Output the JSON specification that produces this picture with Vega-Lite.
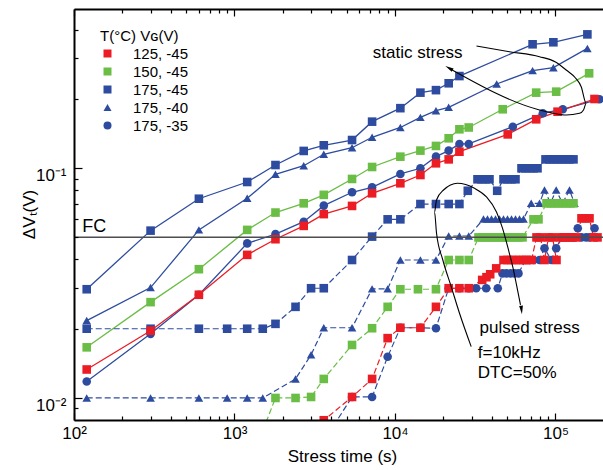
{
"$schema": "https://vega.github.io/schema/vega-lite/v6.json",
"width": 529, "height": 411,
"autosize": {"type": "none"},
"padding": {"left": 74, "top": 9, "right": 0, "bottom": 50},
"background": "white",
"config": {"view": {"stroke": null}, "font": "Liberation Sans"},
"datasets": {
"d": [
{"s":"175, -35","m":"s","t":120,"v":0.0118},{"s":"175, -35","m":"s","t":300,"v":0.019},{"s":"175, -35","m":"s","t":600,"v":0.0281},{"s":"175, -35","m":"s","t":1200,"v":0.047},{"s":"175, -35","m":"s","t":1800,"v":0.0516},{"s":"175, -35","m":"s","t":2700,"v":0.0584},{"s":"175, -35","m":"s","t":3600,"v":0.0686},{"s":"175, -35","m":"s","t":5400,"v":0.0784},{"s":"175, -35","m":"s","t":7200,"v":0.0824},{"s":"175, -35","m":"s","t":10800,"v":0.0942},{"s":"175, -35","m":"s","t":14400,"v":0.0997},{"s":"175, -35","m":"s","t":18000,"v":0.112},{"s":"175, -35","m":"s","t":21600,"v":0.119},{"s":"175, -35","m":"s","t":25200,"v":0.1272},{"s":"175, -35","m":"s","t":28800,"v":0.1272},{"s":"175, -35","m":"s","t":54200,"v":0.1512},{"s":"175, -35","m":"s","t":83400,"v":0.173},{"s":"175, -35","m":"s","t":111000,"v":0.18},{"s":"175, -35","m":"s","t":188000,"v":0.199},
{"s":"175, -35","m":"p","t":3600,"v":0.0065},{"s":"175, -35","m":"p","t":5400,"v":0.0101},{"s":"175, -35","m":"p","t":7200,"v":0.0101},{"s":"175, -35","m":"p","t":9000,"v":0.0151},{"s":"175, -35","m":"p","t":10800,"v":0.0202},{"s":"175, -35","m":"p","t":14400,"v":0.0202},{"s":"175, -35","m":"p","t":18000,"v":0.0201},{"s":"175, -35","m":"p","t":21600,"v":0.030},{"s":"175, -35","m":"p","t":25200,"v":0.030},{"s":"175, -35","m":"p","t":28800,"v":0.030},{"s":"175, -35","m":"p","t":32055,"v":0.030},{"s":"175, -35","m":"p","t":36999,"v":0.030},{"s":"175, -35","m":"p","t":43701,"v":0.030},{"s":"175, -35","m":"p","t":46750,"v":0.0348},{"s":"175, -35","m":"p","t":49513,"v":0.0348},{"s":"175, -35","m":"p","t":52438,"v":0.0348},{"s":"175, -35","m":"p","t":55537,"v":0.0348},{"s":"175, -35","m":"p","t":58818,"v":0.0348},{"s":"175, -35","m":"p","t":65031,"v":0.0398},{"s":"175, -35","m":"p","t":68872,"v":0.0398},{"s":"175, -35","m":"p","t":72938,"v":0.0398},{"s":"175, -35","m":"p","t":79500,"v":0.0398},{"s":"175, -35","m":"p","t":85413,"v":0.0448},{"s":"175, -35","m":"p","t":94032,"v":0.0398},{"s":"175, -35","m":"p","t":101009,"v":0.0448},{"s":"175, -35","m":"p","t":108994,"v":0.0499},{"s":"175, -35","m":"p","t":115437,"v":0.0499},{"s":"175, -35","m":"p","t":122246,"v":0.0499},{"s":"175, -35","m":"p","t":129457,"v":0.0499},{"s":"175, -35","m":"p","t":137694,"v":0.0547},{"s":"175, -35","m":"p","t":145200,"v":0.0499},{"s":"175, -35","m":"p","t":155336,"v":0.0499},{"s":"175, -35","m":"p","t":162888,"v":0.0499},{"s":"175, -35","m":"p","t":175000,"v":0.0547},
{"s":"175, -40","m":"s","t":120,"v":0.0217},{"s":"175, -40","m":"s","t":300,"v":0.0302},{"s":"175, -40","m":"s","t":600,"v":0.0538},{"s":"175, -40","m":"s","t":1200,"v":0.0738},{"s":"175, -40","m":"s","t":1800,"v":0.0939},{"s":"175, -40","m":"s","t":2700,"v":0.1023},{"s":"175, -40","m":"s","t":3600,"v":0.1147},{"s":"175, -40","m":"s","t":5400,"v":0.1225},{"s":"175, -40","m":"s","t":7200,"v":0.136},{"s":"175, -40","m":"s","t":10800,"v":0.150},{"s":"175, -40","m":"s","t":14400,"v":0.166},{"s":"175, -40","m":"s","t":18000,"v":0.1774},{"s":"175, -40","m":"s","t":21600,"v":0.1836},{"s":"175, -40","m":"s","t":43000,"v":0.2318},{"s":"175, -40","m":"s","t":72000,"v":0.265},{"s":"175, -40","m":"s","t":97000,"v":0.273},{"s":"175, -40","m":"s","t":158000,"v":0.331},
{"s":"175, -40","m":"p","t":120,"v":0.0100},{"s":"175, -40","m":"p","t":300,"v":0.0100},{"s":"175, -40","m":"p","t":600,"v":0.0100},{"s":"175, -40","m":"p","t":900,"v":0.0100},{"s":"175, -40","m":"p","t":1200,"v":0.0100},{"s":"175, -40","m":"p","t":1500,"v":0.0100},{"s":"175, -40","m":"p","t":2400,"v":0.0121},{"s":"175, -40","m":"p","t":3000,"v":0.0154},{"s":"175, -40","m":"p","t":3600,"v":0.0202},{"s":"175, -40","m":"p","t":5400,"v":0.0202},{"s":"175, -40","m":"p","t":7200,"v":0.0298},{"s":"175, -40","m":"p","t":9000,"v":0.0298},{"s":"175, -40","m":"p","t":10800,"v":0.0398},{"s":"175, -40","m":"p","t":14400,"v":0.0398},{"s":"175, -40","m":"p","t":18000,"v":0.0398},{"s":"175, -40","m":"p","t":21600,"v":0.0506},{"s":"175, -40","m":"p","t":25200,"v":0.0506},{"s":"175, -40","m":"p","t":28800,"v":0.0506},{"s":"175, -40","m":"p","t":35594,"v":0.060},{"s":"175, -40","m":"p","t":37696,"v":0.060},{"s":"175, -40","m":"p","t":39922,"v":0.060},{"s":"175, -40","m":"p","t":42282,"v":0.060},{"s":"175, -40","m":"p","t":44780,"v":0.060},{"s":"175, -40","m":"p","t":47426,"v":0.060},{"s":"175, -40","m":"p","t":50229,"v":0.060},{"s":"175, -40","m":"p","t":53196,"v":0.060},{"s":"175, -40","m":"p","t":56340,"v":0.060},{"s":"175, -40","m":"p","t":59668,"v":0.060},{"s":"175, -40","m":"p","t":63192,"v":0.060},{"s":"175, -40","m":"p","t":70572,"v":0.0702},{"s":"175, -40","m":"p","t":79500,"v":0.0702},{"s":"175, -40","m":"p","t":85413,"v":0.0802},{"s":"175, -40","m":"p","t":93093,"v":0.0702},{"s":"175, -40","m":"p","t":101009,"v":0.0802},{"s":"175, -40","m":"p","t":110570,"v":0.0702},{"s":"175, -40","m":"p","t":122246,"v":0.0802},{"s":"175, -40","m":"p","t":131329,"v":0.0702},
{"s":"175, -45","m":"s","t":120,"v":0.0297},{"s":"175, -45","m":"s","t":300,"v":0.0534},{"s":"175, -45","m":"s","t":600,"v":0.0735},{"s":"175, -45","m":"s","t":1200,"v":0.0869},{"s":"175, -45","m":"s","t":1800,"v":0.103},{"s":"175, -45","m":"s","t":2700,"v":0.1186},{"s":"175, -45","m":"s","t":3600,"v":0.1255},{"s":"175, -45","m":"s","t":5400,"v":0.1323},{"s":"175, -45","m":"s","t":7200,"v":0.159},{"s":"175, -45","m":"s","t":10800,"v":0.182},{"s":"175, -45","m":"s","t":14400,"v":0.2126},{"s":"175, -45","m":"s","t":18000,"v":0.218},{"s":"175, -45","m":"s","t":21600,"v":0.2335},{"s":"175, -45","m":"s","t":25200,"v":0.251},{"s":"175, -45","m":"s","t":72000,"v":0.345},{"s":"175, -45","m":"s","t":97000,"v":0.352},{"s":"175, -45","m":"s","t":158000,"v":0.381},
{"s":"175, -45","m":"p","t":120,"v":0.020},{"s":"175, -45","m":"p","t":300,"v":0.020},{"s":"175, -45","m":"p","t":600,"v":0.020},{"s":"175, -45","m":"p","t":900,"v":0.020},{"s":"175, -45","m":"p","t":1200,"v":0.020},{"s":"175, -45","m":"p","t":1500,"v":0.020},{"s":"175, -45","m":"p","t":1800,"v":0.021},{"s":"175, -45","m":"p","t":2400,"v":0.0249},{"s":"175, -45","m":"p","t":3000,"v":0.030},{"s":"175, -45","m":"p","t":3600,"v":0.030},{"s":"175, -45","m":"p","t":5400,"v":0.0398},{"s":"175, -45","m":"p","t":7200,"v":0.0503},{"s":"175, -45","m":"p","t":9000,"v":0.0598},{"s":"175, -45","m":"p","t":10800,"v":0.0598},{"s":"175, -45","m":"p","t":14400,"v":0.0697},{"s":"175, -45","m":"p","t":18000,"v":0.0697},{"s":"175, -45","m":"p","t":21600,"v":0.0697},{"s":"175, -45","m":"p","t":25200,"v":0.0697},{"s":"175, -45","m":"p","t":28418,"v":0.0796},{"s":"175, -45","m":"p","t":32659,"v":0.0893},{"s":"175, -45","m":"p","t":34587,"v":0.0893},{"s":"175, -45","m":"p","t":36630,"v":0.0893},{"s":"175, -45","m":"p","t":38793,"v":0.0893},{"s":"175, -45","m":"p","t":43326,"v":0.0796},{"s":"175, -45","m":"p","t":47426,"v":0.0893},{"s":"175, -45","m":"p","t":50229,"v":0.0893},{"s":"175, -45","m":"p","t":53196,"v":0.0893},{"s":"175, -45","m":"p","t":56340,"v":0.0893},{"s":"175, -45","m":"p","t":61404,"v":0.0997},{"s":"175, -45","m":"p","t":65031,"v":0.0997},{"s":"175, -45","m":"p","t":68872,"v":0.0997},{"s":"175, -45","m":"p","t":72938,"v":0.0997},{"s":"175, -45","m":"p","t":77251,"v":0.0997},{"s":"175, -45","m":"p","t":86648,"v":0.109},{"s":"175, -45","m":"p","t":91766,"v":0.109},{"s":"175, -45","m":"p","t":97187,"v":0.109},{"s":"175, -45","m":"p","t":102911,"v":0.109},{"s":"175, -45","m":"p","t":108994,"v":0.109},{"s":"175, -45","m":"p","t":115437,"v":0.109},{"s":"175, -45","m":"p","t":122246,"v":0.109},{"s":"175, -45","m":"p","t":129457,"v":0.109},
{"s":"150, -45","m":"s","t":120,"v":0.0166},{"s":"150, -45","m":"s","t":300,"v":0.0261},{"s":"150, -45","m":"s","t":600,"v":0.0363},{"s":"150, -45","m":"s","t":1200,"v":0.0538},{"s":"150, -45","m":"s","t":1800,"v":0.064},{"s":"150, -45","m":"s","t":2700,"v":0.0702},{"s":"150, -45","m":"s","t":3600,"v":0.0764},{"s":"150, -45","m":"s","t":5400,"v":0.0896},{"s":"150, -45","m":"s","t":7200,"v":0.101},{"s":"150, -45","m":"s","t":10800,"v":0.112},{"s":"150, -45","m":"s","t":14400,"v":0.119},{"s":"150, -45","m":"s","t":18000,"v":0.1247},{"s":"150, -45","m":"s","t":21600,"v":0.1346},{"s":"150, -45","m":"s","t":25200,"v":0.1473},{"s":"150, -45","m":"s","t":28800,"v":0.150},{"s":"150, -45","m":"s","t":46900,"v":0.180},{"s":"150, -45","m":"s","t":75800,"v":0.2126},{"s":"150, -45","m":"s","t":101000,"v":0.2147},{"s":"150, -45","m":"s","t":162000,"v":0.258},
{"s":"150, -45","m":"p","t":1500,"v":0.0072},{"s":"150, -45","m":"p","t":1800,"v":0.0100},{"s":"150, -45","m":"p","t":2400,"v":0.0100},{"s":"150, -45","m":"p","t":3000,"v":0.0101},{"s":"150, -45","m":"p","t":3600,"v":0.0121},{"s":"150, -45","m":"p","t":5400,"v":0.017},{"s":"150, -45","m":"p","t":7200,"v":0.0201},{"s":"150, -45","m":"p","t":9000,"v":0.0249},{"s":"150, -45","m":"p","t":10800,"v":0.0297},{"s":"150, -45","m":"p","t":13900,"v":0.0297},{"s":"150, -45","m":"p","t":18000,"v":0.0297},{"s":"150, -45","m":"p","t":21600,"v":0.0398},{"s":"150, -45","m":"p","t":25200,"v":0.0398},{"s":"150, -45","m":"p","t":28800,"v":0.0398},{"s":"150, -45","m":"p","t":33131,"v":0.0499},{"s":"150, -45","m":"p","t":35087,"v":0.0499},{"s":"150, -45","m":"p","t":37159,"v":0.0499},{"s":"150, -45","m":"p","t":39354,"v":0.0499},{"s":"150, -45","m":"p","t":41680,"v":0.0499},{"s":"150, -45","m":"p","t":44142,"v":0.0499},{"s":"150, -45","m":"p","t":46750,"v":0.0499},{"s":"150, -45","m":"p","t":49513,"v":0.0499},{"s":"150, -45","m":"p","t":52438,"v":0.0499},{"s":"150, -45","m":"p","t":55537,"v":0.0499},{"s":"150, -45","m":"p","t":58818,"v":0.0499},{"s":"150, -45","m":"p","t":62292,"v":0.0499},{"s":"150, -45","m":"p","t":72938,"v":0.0598},{"s":"150, -45","m":"p","t":78368,"v":0.0598},{"s":"150, -45","m":"p","t":87901,"v":0.0702},{"s":"150, -45","m":"p","t":93093,"v":0.0702},{"s":"150, -45","m":"p","t":98576,"v":0.0702},{"s":"150, -45","m":"p","t":104400,"v":0.0702},{"s":"150, -45","m":"p","t":110570,"v":0.0702},{"s":"150, -45","m":"p","t":117100,"v":0.0702},{"s":"150, -45","m":"p","t":124000,"v":0.0702},{"s":"150, -45","m":"p","t":129457,"v":0.0702},
{"s":"125, -45","m":"s","t":120,"v":0.0133},{"s":"125, -45","m":"s","t":300,"v":0.0196},{"s":"125, -45","m":"s","t":600,"v":0.0281},{"s":"125, -45","m":"s","t":1200,"v":0.0419},{"s":"125, -45","m":"s","t":1800,"v":0.049},{"s":"125, -45","m":"s","t":2700,"v":0.056},{"s":"125, -45","m":"s","t":3600,"v":0.063},{"s":"125, -45","m":"s","t":5400,"v":0.0684},{"s":"125, -45","m":"s","t":7200,"v":0.0776},{"s":"125, -45","m":"s","t":10800,"v":0.0858},{"s":"125, -45","m":"s","t":14400,"v":0.0932},{"s":"125, -45","m":"s","t":18000,"v":0.1048},{"s":"125, -45","m":"s","t":21600,"v":0.109},{"s":"125, -45","m":"s","t":25200,"v":0.1177},{"s":"125, -45","m":"s","t":50400,"v":0.140},{"s":"125, -45","m":"s","t":75800,"v":0.1628},{"s":"125, -45","m":"s","t":103000,"v":0.1757},{"s":"125, -45","m":"s","t":175000,"v":0.1995},
{"s":"125, -45","m":"p","t":3000,"v":0.0068},{"s":"125, -45","m":"p","t":3600,"v":0.0080},{"s":"125, -45","m":"p","t":5400,"v":0.0101},{"s":"125, -45","m":"p","t":7200,"v":0.0121},{"s":"125, -45","m":"p","t":9000,"v":0.0182},{"s":"125, -45","m":"p","t":10800,"v":0.0202},{"s":"125, -45","m":"p","t":14400,"v":0.0202},{"s":"125, -45","m":"p","t":18000,"v":0.0249},{"s":"125, -45","m":"p","t":21600,"v":0.030},{"s":"125, -45","m":"p","t":25200,"v":0.030},{"s":"125, -45","m":"p","t":28800,"v":0.030},{"s":"125, -45","m":"p","t":34936,"v":0.0326},{"s":"125, -45","m":"p","t":37159,"v":0.0335},{"s":"125, -45","m":"p","t":39185,"v":0.0345},{"s":"125, -45","m":"p","t":42709,"v":0.0366},{"s":"125, -45","m":"p","t":47426,"v":0.0398},{"s":"125, -45","m":"p","t":50229,"v":0.0398},{"s":"125, -45","m":"p","t":53196,"v":0.0398},{"s":"125, -45","m":"p","t":56340,"v":0.0398},{"s":"125, -45","m":"p","t":59668,"v":0.0398},{"s":"125, -45","m":"p","t":63192,"v":0.0398},{"s":"125, -45","m":"p","t":65970,"v":0.0398},{"s":"125, -45","m":"p","t":70876,"v":0.0398},{"s":"125, -45","m":"p","t":76150,"v":0.0499},{"s":"125, -45","m":"p","t":80650,"v":0.0499},{"s":"125, -45","m":"p","t":85413,"v":0.0398},{"s":"125, -45","m":"p","t":90459,"v":0.0499},{"s":"125, -45","m":"p","t":95802,"v":0.0499},{"s":"125, -45","m":"p","t":101445,"v":0.0398},{"s":"125, -45","m":"p","t":107441,"v":0.0499},{"s":"125, -45","m":"p","t":113790,"v":0.0499},{"s":"125, -45","m":"p","t":120504,"v":0.0499},{"s":"125, -45","m":"p","t":127612,"v":0.0499},{"s":"125, -45","m":"p","t":135148,"v":0.0499},{"s":"125, -45","m":"p","t":145200,"v":0.0604},{"s":"125, -45","m":"p","t":153784,"v":0.0604},{"s":"125, -45","m":"p","t":162888,"v":0.0604},{"s":"125, -45","m":"p","t":172505,"v":0.0499},{"s":"125, -45","m":"p","t":182706,"v":0.0499}
],
"anno": [
{"c":"a","o":1,"t":32190,"v":0.339},{"c":"a","o":2,"t":51680,"v":0.3204},{"c":"a","o":3,"t":79500,"v":0.3048},{"c":"a","o":4,"t":100000,"v":0.289},{"c":"a","o":5,"t":116600,"v":0.2667},{"c":"a","o":6,"t":133200,"v":0.2462},{"c":"a","o":7,"t":144600,"v":0.2257},{"c":"a","o":8,"t":155400,"v":0.1911},{"c":"a","o":9,"t":149500,"v":0.1788},{"c":"a","o":10,"t":141100,"v":0.1729},{"c":"a","o":11,"t":116600,"v":0.17},{"c":"a","o":12,"t":95790,"v":0.1734},{"c":"a","o":13,"t":79500,"v":0.1788},{"c":"a","o":14,"t":21850,"v":0.2708},
{"c":"b","o":1,"t":29840,"v":0.01671},{"c":"b","o":2,"t":25230,"v":0.02335},{"c":"b","o":3,"t":22400,"v":0.03048},{"c":"b","o":4,"t":19860,"v":0.0398},{"c":"b","o":5,"t":18140,"v":0.05217},{"c":"b","o":6,"t":17630,"v":0.06436},{"c":"b","o":7,"t":18140,"v":0.07261},{"c":"b","o":8,"t":20060,"v":0.0802},{"c":"b","o":9,"t":24510,"v":0.0858},{"c":"b","o":10,"t":31280,"v":0.0816},{"c":"b","o":11,"t":37160,"v":0.0748},{"c":"b","o":12,"t":42890,"v":0.06436},{"c":"b","o":13,"t":46750,"v":0.0548},{"c":"b","o":14,"t":50960,"v":0.044},{"c":"b","o":15,"t":54740,"v":0.036},{"c":"b","o":16,"t":57990,"v":0.0295},{"c":"b","o":17,"t":60520,"v":0.02537}
]
},
"layer": [
{"data": {"name": "d"}, "transform": [{"filter": "datum.m == 's'"}],
 "mark": {"type": "line", "strokeWidth": 1.3, "clip": true},
 "encoding": {
  "x": {"field": "t", "type": "quantitative", "scale": {"type": "log", "domain": [100, 197700], "nice": false},
   "axis": {"orient": "bottom", "values": [100, 1000, 10000, 100000], "labelExpr": "datum.value == 100 ? '10²' : datum.value == 1000 ? '10³' : datum.value == 10000 ? '10⁴' : '10⁵'", "tickSize": -7, "tickWidth": 1.2, "tickColor": "#000", "domainColor": "#000", "domainWidth": 2, "labelFont": "Liberation Sans", "labelFontSize": 17, "labelColor": "#000", "labelPadding": 12, "labelBaseline": "top", "labelDx": 3, "labelFlush": false, "labelOverlap": false, "grid": false, "zindex": 1, "title": "Stress time (s)", "titleFont": "Liberation Sans", "titleFontSize": 17, "titleFontWeight": "normal", "titleColor": "#000", "titleX": 268, "titleY": 41, "titleBaseline": "alphabetic"}},
  "y": {"field": "v", "type": "quantitative", "scale": {"type": "log", "domain": [0.00802, 0.4912], "nice": false},
   "axis": {"orient": "left", "values": [0.01, 0.1], "labelExpr": "datum.value < 0.05 ? '10⁻²' : '10⁻¹'", "tickSize": -8, "tickWidth": 1.2, "tickColor": "#000", "domainColor": "#000", "domainWidth": 2, "labelFont": "Liberation Sans", "labelFontSize": 17, "labelColor": "#000", "labelPadding": 16, "labelBaseline": "top", "labelDy": 2, "labelFlush": false, "labelOverlap": false, "grid": false, "zindex": 1, "title": "ΔVₜ(V)", "titleFont": "Liberation Sans", "titleFontSize": 17, "titleFontWeight": "normal", "titleColor": "#000", "titleX": -40, "titleY": 205, "titleAngle": -90, "titleBaseline": "alphabetic", "titleAlign": "center"}},
  "stroke": {"field": "s", "type": "nominal", "scale": {"domain": ["175, -35", "175, -40", "175, -45", "150, -45", "125, -45"], "range": ["#2E4C9F", "#2E4C9F", "#2E4C9F", "#6ABD45", "#EC1C24"]}, "legend": null}
 }},
{"data": {"name": "d"}, "transform": [{"filter": "datum.m == 'p'"}],
 "mark": {"type": "line", "strokeWidth": 1.2, "strokeDash": [6, 3], "clip": true},
 "encoding": {
  "x": {"field": "t", "type": "quantitative", "scale": {"type": "log", "domain": [100, 197700], "nice": false}, "axis": null},
  "y": {"field": "v", "type": "quantitative", "scale": {"type": "log", "domain": [0.00802, 0.4912], "nice": false}, "axis": null},
  "stroke": {"field": "s", "type": "nominal", "scale": {"domain": ["175, -35", "175, -40", "175, -45", "150, -45", "125, -45"], "range": ["#2E4C9F", "#2E4C9F", "#2E4C9F", "#6ABD45", "#EC1C24"]}, "legend": null}
 }},
{"data": {"name": "d"},
 "mark": {"type": "point", "filled": true, "size": 74, "opacity": 1, "clip": true},
 "encoding": {
  "x": {"field": "t", "type": "quantitative", "scale": {"type": "log", "domain": [100, 197700], "nice": false}, "axis": null},
  "y": {"field": "v", "type": "quantitative", "scale": {"type": "log", "domain": [0.00802, 0.4912], "nice": false}, "axis": null},
  "color": {"field": "s", "type": "nominal", "scale": {"domain": ["125, -45", "150, -45", "175, -45", "175, -40", "175, -35"], "range": ["#EC1C24", "#6ABD45", "#2E4C9F", "#2E4C9F", "#2E4C9F"]},
   "legend": {"orient": "none", "legendX": 26, "legendY": 20, "padding": 0, "title": "T(°C) Vɢ(V)", "titleFont": "Liberation Sans", "titleFontSize": 15, "titleFontWeight": "normal", "titleColor": "#000", "titlePadding": 2, "labelFont": "Liberation Sans", "labelFontSize": 15, "labelColor": "#000", "labelOffset": 18, "symbolSize": 64, "rowPadding": 2}},
  "shape": {"field": "s", "type": "nominal", "scale": {"domain": ["125, -45", "150, -45", "175, -45", "175, -40", "175, -35"], "range": ["square", "square", "square", "triangle-up", "circle"]},
   "legend": {"orient": "none", "legendX": 26, "legendY": 20, "padding": 0, "title": "T(°C) Vɢ(V)", "titleFont": "Liberation Sans", "titleFontSize": 15, "titleFontWeight": "normal", "titleColor": "#000", "titlePadding": 2, "labelFont": "Liberation Sans", "labelFontSize": 15, "labelColor": "#000", "labelOffset": 18, "symbolSize": 64, "rowPadding": 2}}
 }},
{"data": {"values": [{}]},
 "mark": {"type": "rule", "color": "#4d4d4d", "strokeWidth": 1.4},
 "encoding": {"y": {"datum": 0.05, "type": "quantitative", "scale": {"type": "log", "domain": [0.00802, 0.4912], "nice": false}, "axis": null}}},
{"data": {"name": "anno"},
 "mark": {"type": "line", "color": "#000", "strokeWidth": 1.1, "interpolate": "monotone"},
 "encoding": {
  "x": {"field": "t", "type": "quantitative", "scale": {"type": "log", "domain": [100, 197700], "nice": false}, "axis": null},
  "y": {"field": "v", "type": "quantitative", "scale": {"type": "log", "domain": [0.00802, 0.4912], "nice": false}, "axis": null},
  "detail": {"field": "c"},
  "order": {"field": "o", "type": "quantitative"}
 }},
{"data": {"values": [{}]},
 "mark": {"type": "point", "shape": "M0,-1L0.45,1L-0.45,1Z", "filled": true, "color": "#000", "opacity": 1, "size": 72, "angle": 300},
 "encoding": {
  "x": {"datum": 21700, "type": "quantitative", "scale": {"type": "log", "domain": [100, 197700], "nice": false}, "axis": null},
  "y": {"datum": 0.2721, "type": "quantitative", "scale": {"type": "log", "domain": [0.00802, 0.4912], "nice": false}, "axis": null}}},
{"data": {"values": [{}]},
 "mark": {"type": "point", "shape": "M0,-1L0.45,1L-0.45,1Z", "filled": true, "color": "#000", "opacity": 1, "size": 72, "angle": 174},
 "encoding": {
  "x": {"datum": 61400, "type": "quantitative", "scale": {"type": "log", "domain": [100, 197700], "nice": false}, "axis": null},
  "y": {"datum": 0.02413, "type": "quantitative", "scale": {"type": "log", "domain": [0.00802, 0.4912], "nice": false}, "axis": null}}},
{"data": {"values": [{}]},
 "mark": {"type": "text", "text": "static stress", "align": "left", "baseline": "alphabetic", "font": "Liberation Sans", "fontSize": 17, "color": "#000"},
 "encoding": {
  "x": {"datum": 7273, "type": "quantitative", "scale": {"type": "log", "domain": [100, 197700], "nice": false}, "axis": null},
  "y": {"datum": 0.3018, "type": "quantitative", "scale": {"type": "log", "domain": [0.00802, 0.4912], "nice": false}, "axis": null}}},
{"data": {"values": [{}]},
 "mark": {"type": "text", "text": "pulsed stress", "align": "left", "baseline": "alphabetic", "font": "Liberation Sans", "fontSize": 17, "color": "#000"},
 "encoding": {
  "x": {"datum": 33610, "type": "quantitative", "scale": {"type": "log", "domain": [100, 197700], "nice": false}, "axis": null},
  "y": {"datum": 0.01917, "type": "quantitative", "scale": {"type": "log", "domain": [0.00802, 0.4912], "nice": false}, "axis": null}}},
{"data": {"values": [{}]},
 "mark": {"type": "text", "text": "f=10kHz", "align": "left", "baseline": "alphabetic", "font": "Liberation Sans", "fontSize": 17, "color": "#000"},
 "encoding": {
  "x": {"datum": 32800, "type": "quantitative", "scale": {"type": "log", "domain": [100, 197700], "nice": false}, "axis": null},
  "y": {"datum": 0.01488, "type": "quantitative", "scale": {"type": "log", "domain": [0.00802, 0.4912], "nice": false}, "axis": null}}},
{"data": {"values": [{}]},
 "mark": {"type": "text", "text": "DTC=50%", "align": "left", "baseline": "alphabetic", "font": "Liberation Sans", "fontSize": 17, "color": "#000"},
 "encoding": {
  "x": {"datum": 32800, "type": "quantitative", "scale": {"type": "log", "domain": [100, 197700], "nice": false}, "axis": null},
  "y": {"datum": 0.01218, "type": "quantitative", "scale": {"type": "log", "domain": [0.00802, 0.4912], "nice": false}, "axis": null}}},
{"data": {"values": [{}]},
 "mark": {"type": "text", "text": "FC", "align": "left", "baseline": "alphabetic", "font": "Liberation Sans", "fontSize": 18, "color": "#000"},
 "encoding": {
  "x": {"datum": 112.5, "type": "quantitative", "scale": {"type": "log", "domain": [100, 197700], "nice": false}, "axis": null},
  "y": {"datum": 0.05284, "type": "quantitative", "scale": {"type": "log", "domain": [0.00802, 0.4912], "nice": false}, "axis": null}}},
{"data": {"values": [{}]},
 "mark": {"type": "point", "opacity": 0},
 "encoding": {
  "x": {"datum": 1000, "type": "quantitative", "scale": {"type": "log", "domain": [100, 197700], "nice": false},
   "axis": {"orient": "bottom", "values": [200,300,400,500,600,700,800,900,2000,3000,4000,5000,6000,7000,8000,9000,20000,30000,40000,50000,60000,70000,80000,90000], "tickSize": -4, "tickWidth": 1.2, "tickColor": "#000", "labels": false, "domain": false, "grid": false, "title": null, "zindex": 1}},
  "y": {"datum": 0.05, "type": "quantitative", "scale": {"type": "log", "domain": [0.00802, 0.4912], "nice": false},
   "axis": {"orient": "left", "values": [0.009,0.02,0.03,0.04,0.05,0.06,0.07,0.08,0.09,0.2,0.3,0.4], "tickSize": -4, "tickWidth": 1.2, "tickColor": "#000", "labels": false, "domain": false, "grid": false, "title": null, "zindex": 1}}}},
{"data": {"values": [{}]},
 "mark": {"type": "point", "opacity": 0},
 "encoding": {
  "x": {"datum": 1000, "type": "quantitative", "scale": {"type": "log", "domain": [100, 197700], "nice": false},
   "axis": {"orient": "top", "values": [100, 1000, 10000, 100000], "tickSize": -7, "tickWidth": 1.2, "tickColor": "#000", "labels": false, "domain": true, "domainColor": "#000", "domainWidth": 2, "grid": false, "title": null, "zindex": 1}},
  "y": {"datum": 0.05, "type": "quantitative", "scale": {"type": "log", "domain": [0.00802, 0.4912], "nice": false}, "axis": null}}},
{"data": {"values": [{}]},
 "mark": {"type": "point", "opacity": 0},
 "encoding": {
  "x": {"datum": 1000, "type": "quantitative", "scale": {"type": "log", "domain": [100, 197700], "nice": false},
   "axis": {"orient": "top", "values": [200,300,400,500,600,700,800,900,2000,3000,4000,5000,6000,7000,8000,9000,20000,30000,40000,50000,60000,70000,80000,90000], "tickSize": -4, "tickWidth": 1.2, "tickColor": "#000", "labels": false, "domain": false, "grid": false, "title": null, "zindex": 1}},
  "y": {"datum": 0.05, "type": "quantitative", "scale": {"type": "log", "domain": [0.00802, 0.4912], "nice": false}, "axis": null}}}
],
"resolve": {"axis": {"x": "independent", "y": "independent"}}
}
